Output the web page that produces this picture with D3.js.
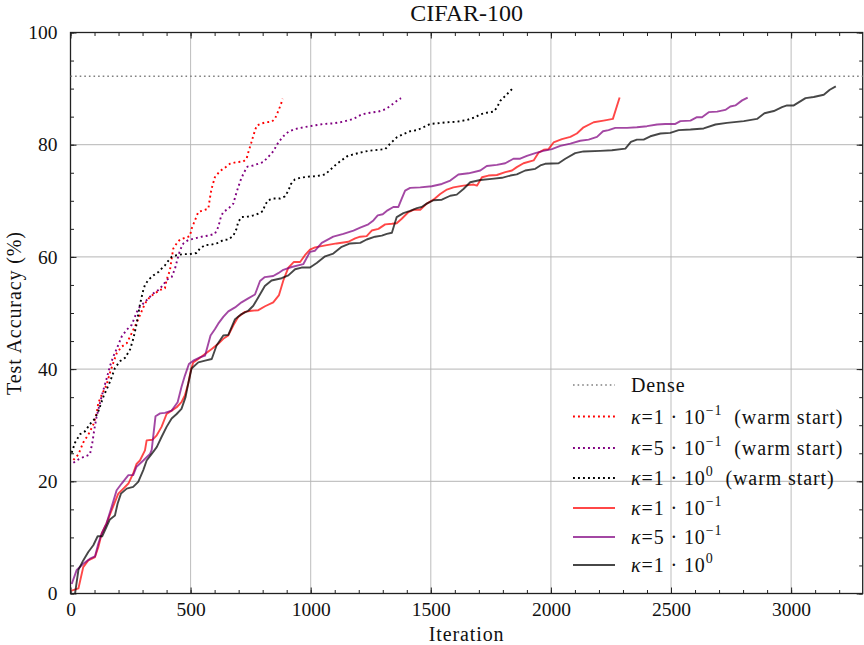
<!DOCTYPE html>
<html>
<head>
<meta charset="utf-8">
<script src="https://cdn.jsdelivr.net/npm/d3@7"></script>
<style>
  body { margin: 0; background: #fff; }
  text { font-family: "Liberation Serif", "DejaVu Serif", serif; fill: #111; }
</style>
</head>
<body>
<div id="graph1"></div>
<script>
// CIFAR-100 test accuracy vs iteration
const denseAcc = 92.2;

// [iteration, accuracy]
const warmK01 = [[12,23.8],[33,24.8],[53,26.9],[74,28.3],[95,30.1],[109,32.2],[116,34],[130,35.4],[150,37.2],[164,39.3],[178,41.1],[192,42.8],[213,44],[234,44.6],[248,45.8],[268,47.6],[289,49.6],[310,51.7],[331,52.9],[352,53.5],[372,54.1],[393,54.4],[400,55.9],[414,57.6],[421,59.7],[428,61.5],[442,62.4],[456,63.1],[477,63.4],[497,63.7],[504,65],[518,66.5],[532,68],[553,68.3],[574,68.6],[580,70.4],[587,72.1],[601,74.2],[622,75.3],[643,75.9],[664,76.6],[692,76.9],[719,77],[733,77.5],[740,78.6],[751,80.1],[761,81.6],[775,83.4],[796,83.8],[816,84],[838,84.1],[851,84.6],[865,86],[876,87.2],[883,88.2]];

const warmK05 = [[12,23.3],[33,23.9],[53,24.3],[81,24.8],[91,26.9],[99,29.2],[109,31.6],[123,34],[137,36.3],[151,38.4],[164,40.5],[178,42.2],[196,44],[213,45.8],[234,47],[255,47.9],[268,49.3],[282,50.8],[303,51.7],[324,52.6],[345,53.5],[366,54.1],[386,55],[400,55.9],[421,56.4],[435,57.9],[446,59.7],[456,61.2],[470,62.4],[490,63],[518,63.3],[546,63.6],[574,63.8],[601,64.1],[615,65.3],[626,67.1],[636,68],[657,68.6],[678,69.5],[687,70.9],[698,72.4],[710,73.9],[723,75.1],[737,76.1],[761,76.3],[782,76.6],[802,76.9],[823,77.8],[844,78.8],[865,80.4],[886,81.5],[907,82.3],[935,82.8],[969,83.1],[1011,83.4],[1053,83.7],[1094,83.8],[1136,84.1],[1178,84.6],[1212,85.4],[1247,85.7],[1282,85.9],[1310,86.3],[1331,86.9],[1358,87.8],[1376,88.3]];

const warmK1 = [[5,25.1],[19,26.9],[40,28.4],[60,28.9],[81,30.2],[102,31.2],[116,32.5],[137,35.1],[165,37.8],[185,40.2],[206,41.4],[227,42],[248,43.5],[262,45.5],[275,48],[289,51.5],[303,54.1],[310,55],[324,55.9],[345,56.7],[366,57.3],[379,57.9],[393,58.5],[407,59.3],[421,60],[442,60.3],[470,60.5],[497,60.5],[525,60.7],[539,61.5],[560,62.1],[587,62.2],[615,62.5],[636,63],[657,63.1],[678,63.8],[691,65],[698,66.2],[712,67.1],[740,67.2],[761,67.4],[782,67.7],[802,68.2],[809,69.2],[823,70.1],[844,70.4],[872,70.4],[893,70.8],[907,71.8],[918,73],[934,73.8],[956,74.1],[990,74.3],[1025,74.4],[1060,74.7],[1081,75.5],[1101,76.3],[1122,77],[1150,77.9],[1171,78.2],[1206,78.6],[1240,78.9],[1282,79.1],[1310,79.2],[1331,80.2],[1358,81.3],[1386,81.9],[1414,82.4],[1442,82.6],[1469,83.1],[1497,83.7],[1525,83.8],[1567,84],[1608,84.1],[1650,84.4],[1685,84.9],[1706,85.4],[1733,85.7],[1761,85.9],[1775,86.6],[1789,87.8],[1810,88.7],[1831,89.6],[1842,90.1]];

const coldK01 = [[5,0.5],[33,0.9],[53,4.7],[74,5.9],[102,6.5],[116,8.3],[130,10.7],[150,12.5],[171,14.8],[199,17.8],[220,18.7],[241,19.6],[261,21.4],[275,23.1],[289,23.7],[310,25.5],[317,27.3],[341,27.4],[359,28.2],[379,29.7],[400,32],[421,32.6],[442,33.2],[462,34.1],[476,35.3],[490,37.4],[501,39.8],[511,41.2],[532,41.8],[560,42.7],[588,43.6],[615,44.5],[636,45.4],[657,46],[678,47.8],[698,49.3],[726,50.2],[754,50.4],[782,50.5],[810,51.2],[844,51.9],[868,53.2],[886,55.8],[907,58.1],[930,59.1],[956,59.1],[976,60.3],[997,61.3],[1018,61.7],[1067,62.1],[1108,62.4],[1157,62.7],[1185,63.3],[1206,63.6],[1233,63.7],[1254,64.7],[1282,65],[1310,65.8],[1338,65.9],[1358,66],[1379,66.8],[1407,68],[1428,68.4],[1456,68.4],[1483,69.5],[1511,70.2],[1539,71.2],[1567,72],[1594,72.4],[1636,72.7],[1678,72.9],[1692,72.7],[1713,74.2],[1740,74.5],[1775,74.6],[1810,75.1],[1838,75.4],[1858,76],[1886,76.7],[1928,77.2],[1949,78.6],[1970,79.1],[1990,79.2],[2011,80.4],[2046,81],[2081,81.4],[2108,82],[2136,83.1],[2178,84],[2219,84.3],[2258,84.6],[2286,88.4]];

const coldK05 = [[5,1.7],[26,4.2],[53,5.3],[81,6.2],[102,6.6],[116,8.9],[130,10.7],[150,12.5],[171,15.4],[192,18.4],[213,19.6],[241,21.1],[261,21.1],[275,22.6],[303,23.7],[331,24.9],[338,25.6],[354,31.6],[373,32.1],[393,32.2],[421,32.6],[446,34.1],[462,36.8],[476,38.8],[493,40.9],[511,41.5],[539,42.1],[560,42.4],[583,46],[601,47.1],[615,48.1],[636,49.3],[657,50.3],[685,51],[712,51.9],[740,52.6],[768,53.3],[789,55.7],[809,56.4],[844,56.6],[865,57.1],[886,57.7],[921,58.2],[969,58.7],[997,60.9],[1018,61.1],[1046,62.5],[1094,63.6],[1136,64.1],[1178,64.7],[1206,65.2],[1240,65.8],[1261,66.5],[1279,67.4],[1300,67.6],[1320,68.3],[1344,68.9],[1365,68.9],[1379,70.4],[1393,71.8],[1414,72.3],[1456,72.4],[1504,72.6],[1546,73],[1581,73.6],[1615,74.7],[1657,74.9],[1706,75.4],[1733,76.2],[1775,76.4],[1810,76.7],[1844,77.5],[1872,77.5],[1900,78],[1935,78.5],[1969,78.9],[2004,79.2],[2039,79.8],[2081,80.2],[2122,80.7],[2157,80.9],[2192,81.4],[2217,82.4],[2240,82.6],[2268,83],[2317,83],[2358,83.1],[2400,83.3],[2442,83.6],[2476,83.7],[2518,83.7],[2539,84.2],[2581,84.3],[2608,84.9],[2629,84.9],[2657,85.8],[2692,85.9],[2726,86.2],[2747,86.8],[2768,87],[2796,87.9],[2819,88.4]];

const coldK1 = [[19,0],[33,4.2],[53,5.9],[74,7.4],[95,8.6],[113,10.2],[132,10.2],[150,11.9],[164,13.2],[185,13.9],[196,16],[210,17.8],[234,18.7],[261,19],[282,19.9],[303,22],[317,23.7],[338,24.9],[359,26.1],[379,27.9],[400,29.7],[421,31.2],[442,32],[462,32.9],[479,35],[490,37.4],[504,40.1],[532,41.2],[560,41.5],[588,41.8],[608,44.2],[636,46],[657,46.1],[685,48.9],[712,49.8],[740,50.4],[761,51.3],[782,52.8],[809,54.8],[837,55.8],[879,56.2],[907,56.7],[935,57.8],[962,58.1],[997,58.1],[1025,58.9],[1060,60.1],[1094,60.6],[1129,61.8],[1164,62.4],[1206,62.5],[1233,63.1],[1268,63.6],[1296,63.8],[1317,64.1],[1338,64.3],[1358,67.1],[1386,67.8],[1414,68.2],[1442,68.7],[1462,68.9],[1483,69.5],[1511,70.1],[1546,70.2],[1581,70.9],[1608,71.1],[1636,72.1],[1664,73.3],[1706,73.7],[1754,73.9],[1796,74.1],[1831,74.5],[1858,74.7],[1893,75.4],[1935,75.7],[1956,76.3],[1976,76.6],[2032,76.7],[2060,77.5],[2101,78.5],[2136,78.8],[2206,78.9],[2254,79],[2310,79.3],[2333,80.5],[2358,80.9],[2386,80.9],[2414,81.5],[2456,82],[2497,82.1],[2532,82.6],[2581,82.7],[2636,82.9],[2685,83.6],[2733,83.9],[2803,84.2],[2858,84.6],[2889,85.6],[2928,86],[2962,86.7],[2983,87],[3011,87],[3060,88.3],[3094,88.5],[3136,88.9],[3161,89.8],[3186,90.4]];

const xTicks = [0, 500, 1000, 1500, 2000, 2500, 3000];
const yTicks = [0, 20, 40, 60, 80, 100];

const width = 864, height = 645;
const margin = {top: 32.5, right: 1.3, bottom: 51.5, left: 70.5};
const w = width - margin.left - margin.right;
const h = height - margin.top - margin.bottom;

let svg = d3.select("#graph1")
    .append("svg")
    .attr("width", width)
    .attr("height", height)
    .append("g")
    .attr("transform", `translate(${margin.left}, ${margin.top})`);

let x = d3.scaleLinear().domain([0, 3298]).range([0, w]);
let y = d3.scaleLinear().domain([0, 100]).range([h, 0]);

// grid
svg.append("g").selectAll("line").data(xTicks.slice(1)).enter().append("line")
    .attr("x1", d => x(d)).attr("x2", d => x(d))
    .attr("y1", 0).attr("y2", h)
    .attr("stroke", "#bdbdbd").attr("stroke-width", 1);
svg.append("g").selectAll("line").data(yTicks.slice(1, -1)).enter().append("line")
    .attr("x1", 0).attr("x2", w)
    .attr("y1", d => y(d)).attr("y2", d => y(d))
    .attr("stroke", "#b5b5b5").attr("stroke-width", 1);

// axes with inward ticks on all sides
function styleAxis(g) {
    g.select(".domain").remove();
    g.selectAll("line").attr("stroke", "#222").attr("stroke-width", 1);
    g.selectAll("text").style("font-family", "Liberation Serif, serif").style("font-size", "19.5px").attr("fill", "#111");
}
const xMinor = d3.range(0, 3300, 100);
const yMinor = d3.range(0, 101, 5);

svg.append("g").attr("transform", `translate(0, ${h})`)
    .call(d3.axisBottom(x).tickValues(xMinor).tickSize(-3.5).tickFormat(""))
    .call(styleAxis);
svg.append("g").attr("transform", `translate(0, ${h})`)
    .call(d3.axisBottom(x).tickValues(xTicks).tickSize(-6).tickPadding(15).tickFormat(d3.format("d")))
    .call(styleAxis)
    .selectAll("text").attr("dy", "0.71em").attr("y", 9);
svg.append("g")
    .call(d3.axisTop(x).tickValues(xMinor).tickSize(-3.5).tickFormat(""))
    .call(styleAxis);
svg.append("g")
    .call(d3.axisTop(x).tickValues(xTicks).tickSize(-6).tickFormat(""))
    .call(styleAxis);

svg.append("g")
    .call(d3.axisLeft(y).tickValues(yMinor).tickSize(-3.5).tickFormat(""))
    .call(styleAxis);
svg.append("g")
    .call(d3.axisLeft(y).tickValues(yTicks).tickSize(-6).tickPadding(13))
    .call(styleAxis);
svg.append("g").attr("transform", `translate(${w}, 0)`)
    .call(d3.axisRight(y).tickValues(yMinor).tickSize(-3.5).tickFormat(""))
    .call(styleAxis);
svg.append("g").attr("transform", `translate(${w}, 0)`)
    .call(d3.axisRight(y).tickValues(yTicks).tickSize(-6).tickFormat(""))
    .call(styleAxis);

// frame
svg.append("rect")
    .attr("x", 0).attr("y", 0).attr("width", w).attr("height", h)
    .attr("fill", "none").attr("stroke", "#222").attr("stroke-width", 1.3);

// series
let line = d3.line().x(d => x(d[0])).y(d => y(d[1]));

const series = [
    {data: warmK01, color: "#ff0000", dotted: true, label: ["1", "−1", "(warm start)"]},
    {data: warmK05, color: "#800080", dotted: true, label: ["5", "−1", "(warm start)"]},
    {data: warmK1, color: "#000000", dotted: true, label: ["1", "0", "(warm start)"]},
    {data: coldK01, color: "#ff0000", dotted: false, label: ["1", "−1", ""]},
    {data: coldK05, color: "#800080", dotted: false, label: ["5", "−1", ""]},
    {data: coldK1, color: "#000000", dotted: false, label: ["1", "0", ""]}
];

svg.append("line")
    .attr("x1", 0).attr("x2", w)
    .attr("y1", y(denseAcc)).attr("y2", y(denseAcc))
    .attr("stroke", "#808080").attr("stroke-width", 1.6)
    .attr("stroke-dasharray", "1.6,3");

series.forEach(s => {
    svg.append("path")
        .datum(s.data)
        .attr("d", line)
        .attr("fill", "none")
        .attr("stroke", s.color)
        .attr("stroke-width", 1.9)
        .attr("stroke-opacity", s.dotted ? 1 : 0.72)
        .attr("stroke-dasharray", s.dotted ? "1.9,3.1" : null)
        .attr("stroke-linejoin", "round");
});

// legend
const legY = [385, 416.5, 448, 478, 508, 537, 565];
let legend = svg.append("g").attr("transform", `translate(${-margin.left}, ${-margin.top})`);

legend.append("line")
    .attr("x1", 573).attr("x2", 615).attr("y1", legY[0]).attr("y2", legY[0])
    .attr("stroke", "#808080").attr("stroke-width", 1.6).attr("stroke-dasharray", "1.6,3");
legend.append("text").attr("x", 631).attr("y", legY[0] + 7)
    .style("font-size", "20px").style("letter-spacing", "0.9px").text("Dense");

series.forEach((s, i) => {
    let ly = legY[i + 1];
    legend.append("line")
        .attr("x1", 573).attr("x2", 615).attr("y1", ly).attr("y2", ly)
        .attr("stroke", s.color).attr("stroke-width", 1.9)
        .attr("stroke-opacity", s.dotted ? 1 : 0.72)
        .attr("stroke-dasharray", s.dotted ? "1.9,3.1" : null);
    let t = legend.append("text").attr("x", 631).attr("y", ly + 7)
        .style("font-size", "20px").style("letter-spacing", "0.9px");
    t.append("tspan").style("font-style", "italic").text("κ");
    t.append("tspan").text("=" + s.label[0] + " · 10");
    t.append("tspan").attr("dy", -9).style("font-size", "14px").text(s.label[1]);
    t.append("tspan").attr("dy", 9).text(s.label[2] ? "\u00a0\u00a0" + s.label[2] : "");
});

// labels
svg.append("text")
    .attr("x", w / 2).attr("y", -11.5)
    .style("text-anchor", "middle")
    .style("font-size", "24px")
    .text("CIFAR-100");

svg.append("text")
    .attr("x", w / 2).attr("y", h + 47.5)
    .style("text-anchor", "middle")
    .style("font-size", "20px")
    .style("letter-spacing", "0.9px")
    .text("Iteration");

svg.append("text")
    .attr("transform", `translate(${21 - margin.left}, ${h / 2}) rotate(-90)`)
    .style("text-anchor", "middle")
    .style("font-size", "20px")
    .style("letter-spacing", "0.9px")
    .text("Test Accuracy (%)");
</script>
</body>
</html>
